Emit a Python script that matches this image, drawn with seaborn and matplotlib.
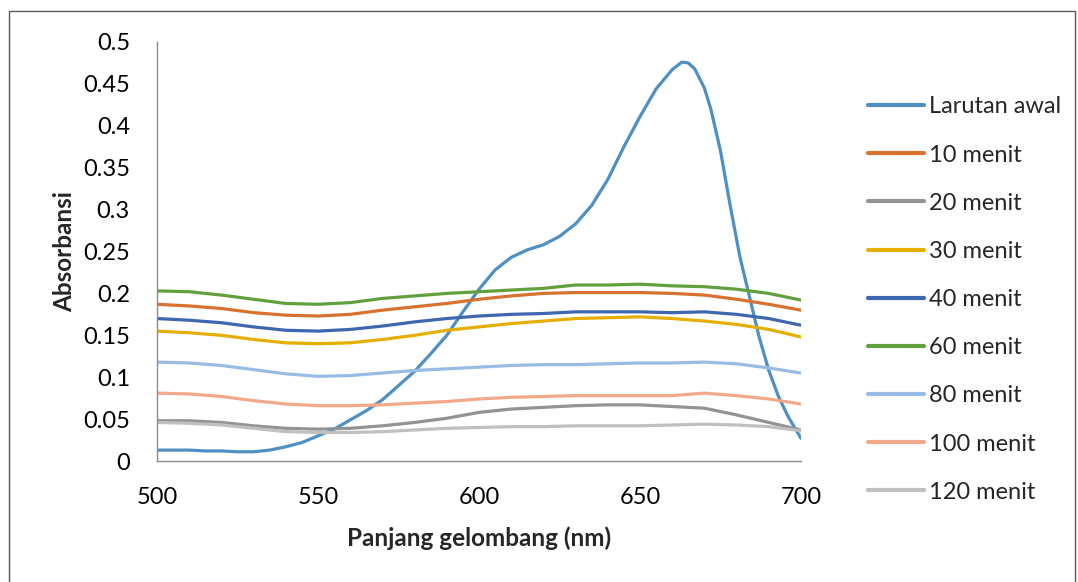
import numpy as np
import pandas as pd
import seaborn as sns
import matplotlib
matplotlib.use("Agg")
import matplotlib.pyplot as plt
from matplotlib.patches import Rectangle

# ---- data ----
wl_awal = [500, 505, 510, 515, 520, 525, 530, 535, 540, 545, 550, 555, 560, 565, 570,
           575, 580, 585, 590, 595, 600, 605, 610, 615, 620, 625, 630, 635, 640, 645,
           650, 655, 660, 663, 665, 667, 670, 672, 675, 678, 681, 684, 687, 690, 693,
           696, 700]
larutan_awal = [0.013, 0.013, 0.013, 0.012, 0.012, 0.011, 0.011, 0.013, 0.017, 0.022,
                0.030, 0.038, 0.049, 0.060, 0.073, 0.090, 0.107, 0.128, 0.150, 0.178,
                0.205, 0.228, 0.243, 0.252, 0.258, 0.268, 0.283, 0.305, 0.336, 0.375,
                0.411, 0.444, 0.467, 0.476, 0.475, 0.468, 0.445, 0.420, 0.370, 0.305,
                0.244, 0.196, 0.148, 0.108, 0.077, 0.053, 0.027]

wl = [500, 510, 520, 530, 540, 550, 560, 570, 580, 590, 600,
      610, 620, 630, 640, 650, 660, 670, 680, 690, 700]
menit10 = [0.187, 0.185, 0.182, 0.177, 0.174, 0.173, 0.175, 0.180, 0.184, 0.188, 0.193,
           0.197, 0.200, 0.201, 0.201, 0.201, 0.200, 0.198, 0.193, 0.187, 0.180]
menit20 = [0.048, 0.048, 0.046, 0.042, 0.039, 0.038, 0.039, 0.042, 0.046, 0.051, 0.058,
           0.062, 0.064, 0.066, 0.067, 0.067, 0.065, 0.063, 0.055, 0.046, 0.037]
menit30 = [0.155, 0.153, 0.150, 0.145, 0.141, 0.140, 0.141, 0.145, 0.150, 0.156, 0.160,
           0.164, 0.167, 0.170, 0.171, 0.172, 0.170, 0.167, 0.163, 0.157, 0.148]
menit40 = [0.170, 0.168, 0.165, 0.160, 0.156, 0.155, 0.157, 0.161, 0.166, 0.170, 0.173,
           0.175, 0.176, 0.178, 0.178, 0.178, 0.177, 0.178, 0.175, 0.170, 0.162]
menit60 = [0.203, 0.202, 0.198, 0.193, 0.188, 0.187, 0.189, 0.194, 0.197, 0.200, 0.202,
           0.204, 0.206, 0.210, 0.210, 0.211, 0.209, 0.208, 0.205, 0.200, 0.192]
menit80 = [0.118, 0.117, 0.114, 0.109, 0.104, 0.101, 0.102, 0.105, 0.108, 0.110, 0.112,
           0.114, 0.115, 0.115, 0.116, 0.117, 0.117, 0.118, 0.116, 0.111, 0.105]
menit100 = [0.081, 0.080, 0.077, 0.072, 0.068, 0.066, 0.066, 0.067, 0.069, 0.071, 0.074,
            0.076, 0.077, 0.078, 0.078, 0.078, 0.078, 0.081, 0.078, 0.074, 0.068]
menit120 = [0.046, 0.045, 0.043, 0.039, 0.035, 0.034, 0.034, 0.035, 0.037, 0.039, 0.040,
            0.041, 0.041, 0.042, 0.042, 0.042, 0.043, 0.044, 0.043, 0.041, 0.036]

series_names = ["Larutan awal", "10 menit", "20 menit", "30 menit", "40 menit",
                "60 menit", "80 menit", "100 menit", "120 menit"]
colors = ["#4E8FC4", "#D9722E", "#939393", "#E5AE00", "#3F67B0",
          "#62A03E", "#98BCE3", "#F2A98A", "#C0C0C0"]
x_ticks = [500, 550, 600, 650, 700]
y_ticks = [0, 0.05, 0.1, 0.15, 0.2, 0.25, 0.3, 0.35, 0.4, 0.45, 0.5]
y_tick_labels = ["0", "0.05", "0.1", "0.15", "0.2", "0.25", "0.3", "0.35", "0.4", "0.45", "0.5"]

# ---- long-form table ----
frames = [pd.DataFrame({"wl": wl_awal, "abs": larutan_awal, "series": series_names[0]})]
for name, vals in zip(series_names[1:], [menit10, menit20, menit30, menit40,
                                          menit60, menit80, menit100, menit120]):
    frames.append(pd.DataFrame({"wl": wl, "abs": vals, "series": name}))
df = pd.concat(frames, ignore_index=True)

sns.set_theme(style="white")
plt.rcParams["font.family"] = ["Lato", "DejaVu Sans"]

fig = plt.figure(figsize=(10.78, 5.82), dpi=100)
ax = fig.add_axes([157 / 1078, 1 - 461 / 582, (801 - 157) / 1078, (461 - 42) / 582])

sns.lineplot(data=df, x="wl", y="abs", hue="series", hue_order=series_names,
             palette=dict(zip(series_names, colors)), linewidth=2.3, sort=False,
             estimator=None, ax=ax)

ax.set_xlim(500, 700)
ax.set_ylim(0, 0.5)
ax.set_xticks(x_ticks)
ax.set_xticklabels([str(t) for t in x_ticks])
ax.set_yticks(y_ticks)
ax.set_yticklabels(y_tick_labels)
ax.tick_params(axis="both", length=0, labelsize=17, colors="black")
ax.tick_params(axis="y", pad=19.5)
ax.tick_params(axis="x", pad=19)
for s in ["top", "right"]:
    ax.spines[s].set_visible(False)
for s in ["left", "bottom"]:
    ax.spines[s].set_color("#8C8C8C")
    ax.spines[s].set_linewidth(1.0)

ax.set_xlabel("Panjang gelombang (nm)", fontsize=17.5, fontweight="bold", labelpad=13)
ax.set_ylabel("Absorbansi", fontsize=17.5, fontweight="bold", labelpad=5)

handles, labels = ax.get_legend_handles_labels()
ax.get_legend().remove()
leg = fig.legend(handles, labels, loc="upper left",
                 bbox_to_anchor=(859 / 1078, 1 - 87 / 582),
                 frameon=False, fontsize=17, handlelength=2.35, handletextpad=0.2,
                 labelspacing=1.15, borderaxespad=0)
for h in leg.legend_handles:
    h.set_linewidth(3)

# chart border
fig.patches.append(Rectangle((9 / 1078, -0.02), (1075 - 9) / 1078, 1.02 - 11 / 582,
                             transform=fig.transFigure, fill=False,
                             edgecolor="#595959", linewidth=1.0))

fig.savefig("out.png", dpi=100)
